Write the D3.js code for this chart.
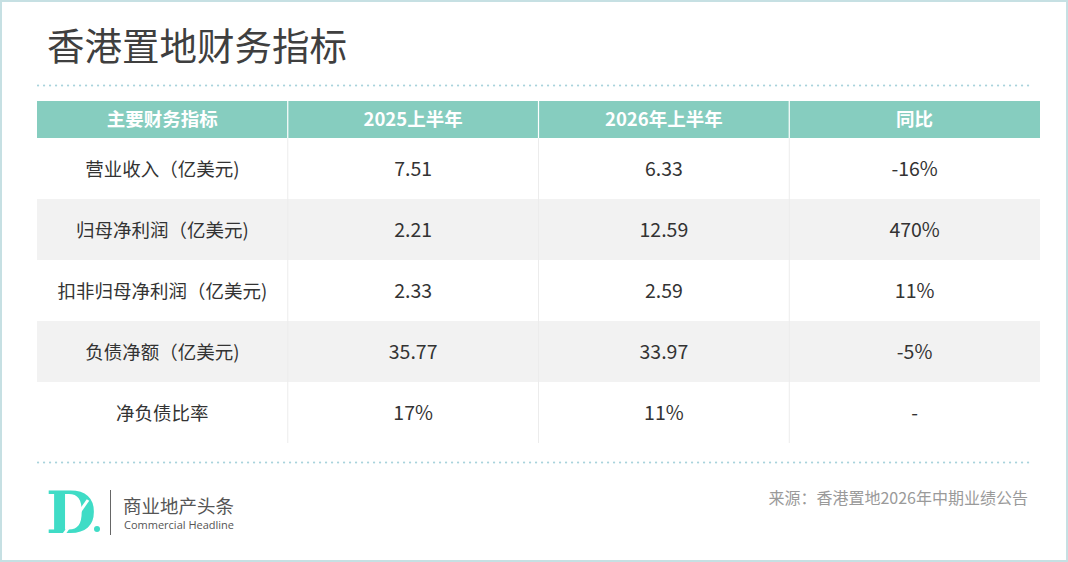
<!DOCTYPE html>
<html><head><meta charset="utf-8">
<script src="https://cdn.jsdelivr.net/npm/d3@7/dist/d3.min.js"></script>
<style>
html,body{margin:0;padding:0;background:#fff;}
svg{display:block;font-family:"Noto Sans CJK SC","Noto Sans",sans-serif;}
</style></head>
<body>
<svg id="c" width="1068" height="562"></svg>
<script>
const title = "香港置地财务指标";
const headers = ["主要财务指标", "2025上半年", "2026年上半年", "同比"];
const metrics = ["营业收入（亿美元)", "归母净利润（亿美元)", "扣非归母净利润（亿美元)", "负债净额（亿美元)", "净负债比率"];
const h1_2025 = ["7.51", "2.21", "2.33", "35.77", "17%"];
const h1_2026 = ["6.33", "12.59", "2.59", "33.97", "11%"];
const yoy = ["-16%", "470%", "11%", "-5%", "-"];
const source = "来源：香港置地2026年中期业绩公告";
const brandCn = "商业地产头条";
const brandEn = "Commercial Headline";

const svg = d3.select("#c");
const W = 1068, H = 562;

// outer border
svg.append("rect").attr("x",1).attr("y",1).attr("width",W-2).attr("height",H-2)
  .attr("fill","#fff").attr("stroke","#c6e0e3").attr("stroke-width",2);

// title
svg.append("text").attr("x",47).attr("y",60).attr("font-size",37.5)
  .attr("fill","#3f3f3f").text(title);

// dotted lines
function dots(y){
  svg.append("line").attr("x1",38).attr("x2",1034).attr("y1",y).attr("y2",y)
    .attr("stroke","#a9d3dc").attr("stroke-width",2.2)
    .attr("stroke-dasharray","0.1,5.9").attr("stroke-linecap","round");
}
dots(85.5); dots(462.5);

// table
const x = d3.scaleBand().domain(d3.range(headers.length)).range([37,1040]);
const rowKeys = d3.range(metrics.length);
const y = d3.scaleBand().domain(rowKeys).range([138,443]);
const headerTop = 101, headerH = 37;

const cols = [metrics, h1_2025, h1_2026, yoy];

// header
svg.append("rect").attr("x",x(0)).attr("y",headerTop).attr("width",x.range()[1]-x(0))
  .attr("height",headerH).attr("fill","#86cdbf");
svg.selectAll(".hd").data(headers).join("text")
  .attr("x",(d,i)=>x(i)+x.bandwidth()/2).attr("y",headerTop+headerH/2+6.5)
  .attr("text-anchor","middle").attr("font-size",18.5).attr("font-weight","bold")
  .attr("fill","#fff").text(d=>d);

// rows
svg.selectAll(".rowbg").data(rowKeys).join("rect")
  .attr("x",x(0)).attr("y",d=>y(d)).attr("width",x.range()[1]-x(0)).attr("height",y.bandwidth())
  .attr("fill",d=>d%2===1?"#f2f2f2":"#fff");

// column separators
d3.range(1,headers.length).forEach(i=>{
  svg.append("line").attr("x1",x(i)).attr("x2",x(i)).attr("y1",headerTop).attr("y2",headerTop+headerH)
    .attr("stroke","#fff").attr("stroke-width",1.2);
  svg.append("line").attr("x1",x(i)).attr("x2",x(i)).attr("y1",y(0)).attr("y2",y.range()[1])
    .attr("stroke","#ececec").attr("stroke-width",1);
});

cols.forEach((col,ci)=>{
  svg.selectAll(".c"+ci).data(col).join("text")
    .attr("x",x(ci)+x.bandwidth()/2).attr("y",(d,i)=>y(i)+y.bandwidth()/2+7.5)
    .attr("text-anchor","middle").attr("font-size",ci===0?18.5:19.5).attr("fill","#333")
    .text(d=>d);
});

// logo
const g = svg.append("g");
g.append("text").attr("x",46).attr("y",533).attr("font-family","DejaVu Serif, serif")
  .attr("font-weight","bold").attr("font-size",58).attr("fill","#3fdcc6").text("D");
g.append("line").attr("x1",64).attr("y1",534).attr("x2",88).attr("y2",500)
  .attr("stroke","#fff").attr("stroke-width",3);
g.append("circle").attr("cx",97).attr("cy",529).attr("r",3).attr("fill","#3fdcc6");
g.append("line").attr("x1",110.5).attr("x2",110.5).attr("y1",490).attr("y2",535)
  .attr("stroke","#666").attr("stroke-width",1);
g.append("text").attr("x",123).attr("y",513).attr("font-size",18.5).attr("fill","#555").text(brandCn);
g.append("text").attr("x",124).attr("y",529).attr("font-size",11).attr("fill","#555")
  .attr("font-family","Open Sans, sans-serif").text(brandEn);

// source
svg.append("text").attr("x",1028).attr("y",504).attr("text-anchor","end")
  .attr("font-size",16).attr("fill","#9a9a9a").text(source);
</script>
</body></html>
